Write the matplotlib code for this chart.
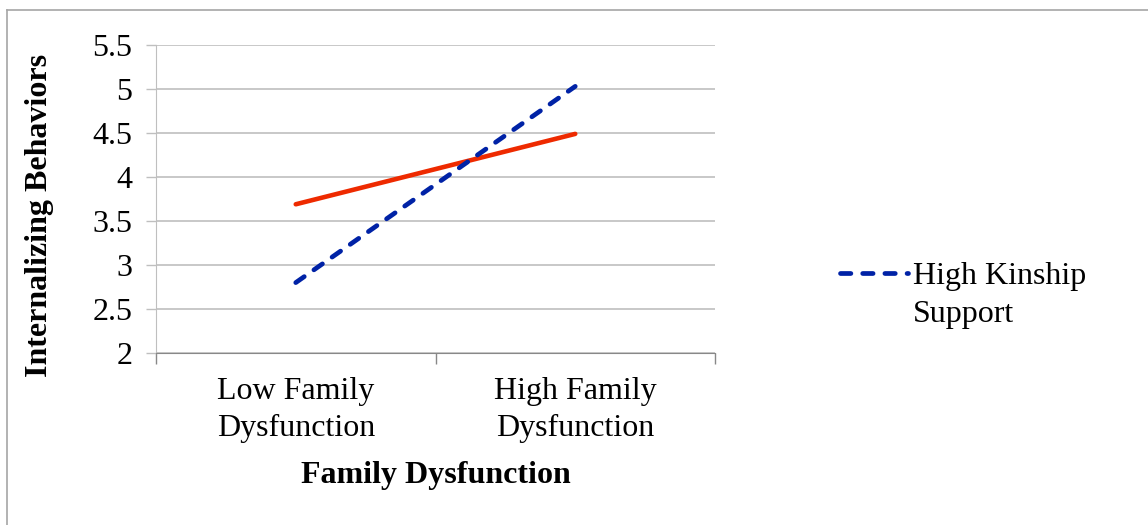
import matplotlib.pyplot as plt
from matplotlib.lines import Line2D

# datos
categorias = ["Low Family\nDysfunction", "High Family\nDysfunction"]
baja_parentela = [3.69, 4.49]
alta_parentela = [2.80, 5.03]
ticks_y = [2, 2.5, 3, 3.5, 4, 4.5, 5, 5.5]
etiquetas_y = ["2", "2.5", "3", "3.5", "4", "4.5", "5", "5.5"]

ROJO = "#EE2A00"
AZUL = "#0022A6"
GRIS = "#BFBFBF"
GUIONES = (0, (2.2, 2.5))
TAM = 23

plt.rcParams["font.family"] = ["Liberation Serif", "DejaVu Serif"]

fig = plt.figure(figsize=(11.48, 5.25), dpi=100)
W, H = 1148, 525

def px(x0, y0, x1, y1):
    return [x0 / W, 1 - y1 / H, (x1 - x0) / W, (y1 - y0) / H]

ax = fig.add_axes(px(156, 45, 715, 353))

x = [0.5, 1.5]
ax.plot(x, baja_parentela, color=ROJO, lw=3.3, solid_capstyle="round", zorder=3)
ax.plot(x, alta_parentela, color=AZUL, lw=3.4, ls=GUIONES,
        dash_capstyle="round", zorder=3)

ax.set_xlim(0, 2)
ax.set_ylim(2, 5.5)
ax.set_yticks(ticks_y)
ax.set_yticklabels(etiquetas_y, fontsize=TAM)
ax.set_xticks(x)
ax.set_xticklabels(categorias, fontsize=TAM, linespacing=1.4)
ax.set_xticks([0, 1, 2], minor=True)
ax.tick_params(axis="x", which="major", length=0, pad=17)
ax.tick_params(axis="x", which="minor", length=8, color="#888888", width=1)
ax.tick_params(axis="y", length=7, color=GRIS, width=1, pad=10)

ax.grid(axis="y", color=GRIS, lw=1.2)
ax.set_axisbelow(True)
for lado in ["top", "right"]:
    ax.spines[lado].set_visible(False)
ax.spines["left"].set_color(GRIS)
ax.spines["bottom"].set_color("#888888")

fig.text(40 / W, 1 - 215 / H, "Internalizing Behaviors", rotation=90,
         fontsize=TAM, fontweight="bold", ha="center", va="center")
fig.text(436 / W, 1 - 476 / H, "Family Dysfunction",
         fontsize=TAM, fontweight="bold", ha="center", va="center")

# leyenda (solo la serie azul, como en el original)
fig.add_artist(Line2D([840 / W, 908 / W], [1 - 273 / H, 1 - 273 / H], color=AZUL,
                      lw=3.4, ls=GUIONES, dash_capstyle="round"))
fig.text(913 / W, 1 - 262 / H, "High Kinship\nSupport", fontsize=TAM,
         ha="left", va="top", linespacing=1.4)

# borde
fig.add_artist(Line2D([7 / W, 7 / W], [0, 1 - 10 / H], color="#A6A6A6", lw=1.2))
fig.add_artist(Line2D([7 / W, 1], [1 - 10 / H, 1 - 10 / H], color="#A6A6A6", lw=1.2))

fig.savefig("out.png", dpi=100)
